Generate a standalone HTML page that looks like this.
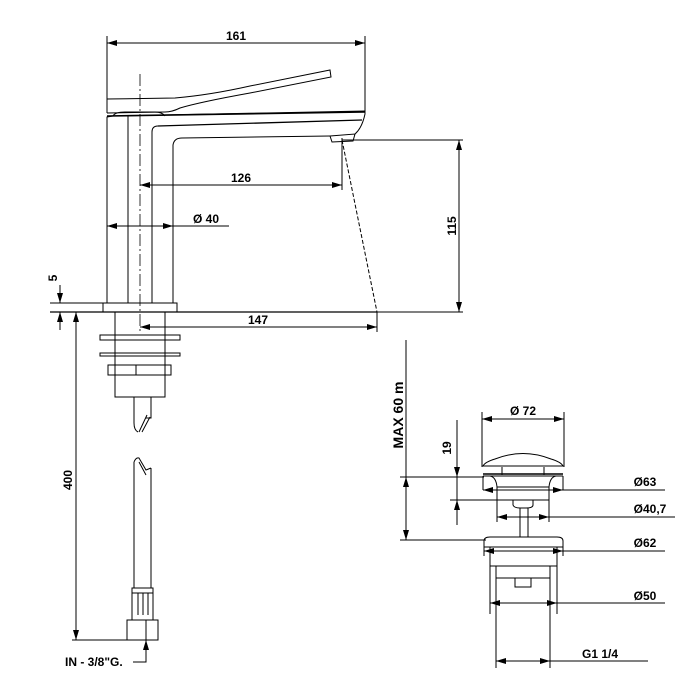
<!DOCTYPE html>
<html><head><meta charset="utf-8"><style>
html,body{margin:0;padding:0;background:#fff;}
svg{display:block;}
text{font-family:"Liberation Sans",Arial,sans-serif;font-weight:bold;font-size:12px;fill:#000;}
</style></head><body>
<svg width="700" height="700" viewBox="0 0 700 700" xmlns="http://www.w3.org/2000/svg">
<defs>
<marker id="a" viewBox="0 0 10 6" refX="10" refY="3" markerWidth="10" markerHeight="6" orient="auto-start-reverse" markerUnits="userSpaceOnUse"><path d="M0,0 L10,3 L0,6 z" fill="#000"/></marker>
</defs>
<g fill="none" stroke="#000" stroke-width="1">
<line x1="107" y1="36" x2="107" y2="113"/>
<line x1="365" y1="36" x2="365" y2="112"/>
<line x1="107" y1="43" x2="365" y2="43" marker-start="url(#a)" marker-end="url(#a)"/>
<path d="M107,113 L107,99 L175,98 Q210,95 250,86 L330,70 L331,77 L250,93 Q200,102 180,108 Q172,112 165,112 L107,113"/>
<path d="M113,116 Q115,112 125,112 L155,112 Q162,112 165,116"/>
<path d="M107,303 L107,117 L113,116 L365,111 L365,114 Q362,128 355,134"/>
<path d="M107,116 L365,112" stroke-width="1.6"/>
<path d="M158,126 L362,120" stroke-width="1.3"/>
<path d="M152,303 L152,132 Q152,126 158,126"/>
<path d="M173,303 L173,145 Q174,138 182,138 L330,136"/>
<path d="M330,136 L355,134 L353,141 L332,142 Z"/>
<line x1="128" y1="116" x2="128" y2="303"/>
<line x1="140" y1="74" x2="140" y2="332" stroke-dasharray="12,3,2,3" stroke-width="0.8"/>
<rect x="103" y="303" width="74" height="9"/>
<line x1="50" y1="303" x2="103" y2="303"/>
<line x1="50" y1="312" x2="377" y2="312" stroke-width="1.3"/>
<line x1="342" y1="138" x2="342" y2="190"/>
<line x1="140" y1="185" x2="342" y2="185" marker-start="url(#a)" marker-end="url(#a)"/>
<line x1="107" y1="226" x2="229" y2="226"/>
<path d="M117,223 L107,226 L117,229z M163,223 L173,226 L163,229z" fill="#000" stroke="none"/>
<line x1="342" y1="140" x2="463" y2="140"/>
<line x1="377" y1="312" x2="463" y2="312"/>
<line x1="459" y1="140" x2="459" y2="312" marker-start="url(#a)" marker-end="url(#a)"/>
<line x1="342" y1="140" x2="377" y2="312" stroke-dasharray="4,2"/>
<line x1="377" y1="312" x2="377" y2="332"/>
<line x1="140" y1="327" x2="377" y2="327" marker-start="url(#a)" marker-end="url(#a)"/>
<line x1="60" y1="285" x2="60" y2="303" marker-end="url(#a)"/>
<line x1="60" y1="330" x2="60" y2="312" marker-end="url(#a)"/>
<rect x="115" y="312" width="50" height="85"/>
<rect x="100" y="335" width="80" height="5"/>
<rect x="100" y="353" width="80" height="3"/>
<rect x="108" y="365" width="63" height="10"/>
<line x1="136" y1="365" x2="136" y2="375"/>
<path d="M134,397 L134,423 Q134,430 138,432 M151,397 L151,418 L146,418"/>
<path d="M139,432 L147,415 M142,432 L150,417"/>
<path d="M134,462 L134,588 M151,468 L151,588 M134,462 Q136,457 139,458 L146,470 L151,468 M139,462 L146,475"/>
<rect x="132" y="588" width="21" height="32"/>
<line x1="132" y1="593" x2="153" y2="593"/>
<line x1="138" y1="593" x2="138" y2="615"/><line x1="143" y1="593" x2="143" y2="615"/><line x1="148" y1="593" x2="148" y2="615"/>
<rect x="127" y="620" width="31" height="20"/>
<line x1="72" y1="640" x2="158" y2="640"/>
<line x1="76" y1="312" x2="76" y2="640" marker-start="url(#a)" marker-end="url(#a)"/>
<path d="M133,662 L146,662 L146,640" marker-end="url(#a)"/>
<line x1="146" y1="620" x2="146" y2="640"/>
<line x1="406" y1="340" x2="406" y2="540"/>
<path d="M403,487 L406,477 L409,487z M403,530 L406,540 L409,530z" fill="#000" stroke="none"/>
<line x1="400" y1="477" x2="484" y2="477"/>
<line x1="400" y1="540" x2="486" y2="540"/>
<line x1="482" y1="412" x2="482" y2="467"/>
<line x1="564" y1="412" x2="564" y2="467"/>
<line x1="482" y1="419" x2="564" y2="419" marker-start="url(#a)" marker-end="url(#a)"/>
<path d="M483,466 Q485,462 495,459 Q523,448 551,459 Q561,462 563,466 Z"/>
<line x1="502" y1="467" x2="502" y2="475"/><line x1="544" y1="467" x2="544" y2="475"/>
<line x1="483" y1="474" x2="563" y2="474" stroke-width="1.5"/>
<line x1="483" y1="476" x2="563" y2="476"/>
<path d="M483,476 L483,490 M563,476 L563,490"/>
<path d="M490,476 Q496,477 497,487 M556,476 Q550,477 549,487"/>
<rect x="497" y="487" width="52" height="13"/>
<line x1="497" y1="490" x2="549" y2="490"/>
<line x1="457" y1="420" x2="457" y2="525"/>
<path d="M454,467 L457,477 L460,467z M454,510 L457,500 L460,510z" fill="#000" stroke="none"/>
<line x1="450" y1="500" x2="497" y2="500"/>
<line x1="483" y1="490" x2="665" y2="490"/>
<path d="M493,487 L483,490 L493,493z M553,487 L563,490 L553,493z" fill="#000" stroke="none"/>
<path d="M513,500 L513,505 Q514,508 520,508 L526,508 Q533,508 533,505 L533,500"/>
<rect x="520" y="508" width="8" height="29"/>
<line x1="497" y1="500" x2="497" y2="522"/><line x1="549" y1="500" x2="549" y2="522"/>
<line x1="497" y1="517" x2="675" y2="517"/>
<path d="M507,514 L497,517 L507,520z M539,514 L549,517 L539,520z" fill="#000" stroke="none"/>
<path d="M484,547 L484,541 Q484,537 490,537 L557,537 Q563,537 563,541 L563,547 Z"/>
<line x1="484" y1="547" x2="484" y2="556"/><line x1="563" y1="547" x2="563" y2="556"/>
<line x1="484" y1="551" x2="665" y2="551"/>
<path d="M494,548 L484,551 L494,554z M553,548 L563,551 L553,554z" fill="#000" stroke="none"/>
<rect x="490" y="547" width="67" height="19"/>
<line x1="490" y1="566" x2="490" y2="614"/><line x1="557" y1="566" x2="557" y2="614"/>
<line x1="496" y1="566" x2="496" y2="668"/><line x1="550" y1="566" x2="550" y2="668"/>
<line x1="496" y1="578" x2="550" y2="578"/>
<rect x="515" y="578" width="16" height="9"/>
<line x1="490" y1="603" x2="665" y2="603"/>
<path d="M500,600 L490,603 L500,606z M547,600 L557,603 L547,606z" fill="#000" stroke="none"/>
<line x1="496" y1="661" x2="648" y2="661"/>
<path d="M506,658 L496,661 L506,664z M540,658 L550,661 L540,664z" fill="#000" stroke="none"/>
</g>
<text x="236" y="40" text-anchor="middle">161</text>
<text x="241" y="182" text-anchor="middle">126</text>
<text x="206" y="223" text-anchor="middle">Ø 40</text>
<text x="258" y="324" text-anchor="middle">147</text>
<text transform="translate(456,226) rotate(-90)" text-anchor="middle">115</text>
<text transform="translate(57,278) rotate(-90)" text-anchor="middle">5</text>
<text transform="translate(72,480) rotate(-90)" text-anchor="middle">400</text>
<text x="65" y="666">IN - 3/8"G.</text>
<text transform="translate(403,415) rotate(-90)" text-anchor="middle" style="font-size:14px">MAX 60 m</text>
<text transform="translate(451,448) rotate(-90)" text-anchor="middle">19</text>
<text x="523" y="415" text-anchor="middle">Ø 72</text>
<text x="645" y="486" text-anchor="middle">Ø63</text>
<text x="650" y="513" text-anchor="middle">Ø40,7</text>
<text x="645" y="547" text-anchor="middle">Ø62</text>
<text x="645" y="600" text-anchor="middle">Ø50</text>
<text x="600" y="658" text-anchor="middle">G1 1/4</text>
</svg>
</body></html>
